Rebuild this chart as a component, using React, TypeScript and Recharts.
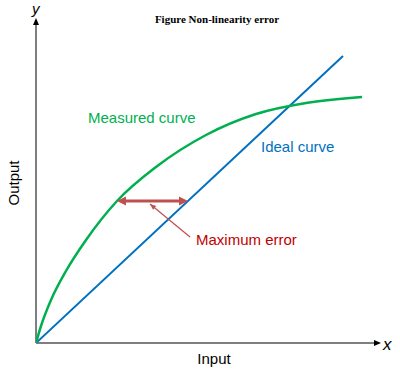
import React from 'react';
import { LineChart, Line, XAxis, YAxis, ReferenceLine, Customized } from 'recharts';

// data units: x input, y output (origin at the axes corner)
const idealCurve = [
  { x: 0, y: 0 },
  { x: 307, y: 287 },
];

const measuredCurve = [
  { x: 0, y: 0 },
  { x: 5, y: 17 },
  { x: 15, y: 43 },
  { x: 30, y: 72 },
  { x: 50, y: 103 },
  { x: 81, y: 142 },
  { x: 120, y: 176 },
  { x: 170, y: 208 },
  { x: 220, y: 229 },
  { x: 270, y: 240 },
  { x: 326, y: 246 },
];

const maxError = { y: 142, from: 81, to: 152 };
const pointer = { from: { x: 114, y: 139 }, to: { x: 154, y: 106 } };
const xDomain = [0, 345];
const yDomain = [0, 325];

const labels = {
  title: 'Figure Non-linearity error',
  measured: 'Measured curve',
  ideal: 'Ideal curve',
  error: 'Maximum error',
  xName: 'Input',
  yName: 'Output',
};

const GREEN = '#00b050';
const BLUE = '#0070c0';
const RED = '#c0504d';
const RED_TEXT = '#c00000';
const AXIS = '#7f7f7f';

function head(x: number, y: number, dx: number, dy: number, len: number, w: number) {
  const l = Math.hypot(dx, dy);
  const ux = dx / l;
  const uy = dy / l;
  const bx = x - ux * len;
  const by = y - uy * len;
  const px = -uy * w;
  const py = ux * w;
  return `${x},${y} ${bx + px},${by + py} ${bx - px},${by - py}`;
}

const AxisArrow = (props: any) => {
  const { x1, y1, x2, y2 } = props;
  const dx = x2 - x1;
  const dy = y2 - y1;
  const l = Math.hypot(dx, dy);
  const ex = x2 - (dx / l) * 6;
  const ey = y2 - (dy / l) * 6;
  return (
    <g>
      <line x1={x1} y1={y1} x2={ex} y2={ey} stroke={AXIS} strokeWidth={2} />
      <polygon points={head(x2, y2, dx, dy, 7, 3)} fill="#000" />
    </g>
  );
};

const DoubleArrow = (props: any) => {
  const { x1, y1, x2, y2 } = props;
  const dx = x2 - x1;
  const dy = y2 - y1;
  const l = Math.hypot(dx, dy);
  const ux = dx / l;
  const uy = dy / l;
  return (
    <g>
      <line x1={x1 + ux * 6} y1={y1 + uy * 6} x2={x2 - ux * 6} y2={y2 - uy * 6} stroke={RED} strokeWidth={3} />
      <polygon points={head(x2, y2, dx, dy, 9, 4.5)} fill={RED} />
      <polygon points={head(x1, y1, -dx, -dy, 9, 4.5)} fill={RED} />
    </g>
  );
};

const Pointer = (props: any) => {
  const { x1, y1, x2, y2 } = props;
  return (
    <g>
      <line x1={x1} y1={y1} x2={x2} y2={y2} stroke={RED} strokeWidth={1.2} />
      <polygon points={head(x1, y1, x1 - x2, y1 - y2, 6, 2.5)} fill={RED} />
    </g>
  );
};

const Texts = () => (
  <g fontFamily="'Liberation Sans', Arial, sans-serif">
    <text x={217} y={23} textAnchor="middle" fontFamily="'Liberation Serif', 'Times New Roman', serif" fontWeight="bold" fontSize={11} fill="#000">
      {labels.title}
    </text>
    <text x={88} y={123} fontSize={15} fill={GREEN}>{labels.measured}</text>
    <text x={261} y={152} fontSize={15} fill={BLUE}>{labels.ideal}</text>
    <text x={196} y={245} fontSize={15} fill={RED_TEXT}>{labels.error}</text>
    <text x={214} y={364} textAnchor="middle" fontSize={15} fill="#000">{labels.xName}</text>
    <text x={19} y={183} textAnchor="middle" fontSize={15} fill="#000" transform="rotate(-90 19 183)">{labels.yName}</text>
    <text x={383} y={350} fontSize={17} fontStyle="italic" fill="#000">x</text>
    <text x={32} y={14} fontSize={15} fontStyle="italic" fill="#000">y</text>
  </g>
);

export default function App() {
  return (
    <div style={{ position: 'absolute', left: 0, top: 0 }}>
      <LineChart width={400} height={370} margin={{ top: 18, right: 19, bottom: 27, left: 36 }}>
        <XAxis type="number" dataKey="x" domain={xDomain} hide allowDataOverflow />
        <YAxis type="number" dataKey="y" domain={yDomain} hide allowDataOverflow />
        <ReferenceLine segment={[{ x: 0, y: 0 }, { x: xDomain[1], y: 0 }]} shape={AxisArrow} ifOverflow="visible" />
        <ReferenceLine segment={[{ x: 0, y: 0 }, { x: 0, y: yDomain[1] }]} shape={AxisArrow} ifOverflow="visible" />
        <Line data={idealCurve} dataKey="y" type="linear" stroke={BLUE} strokeWidth={2} dot={false} isAnimationActive={false} />
        <Line data={measuredCurve} dataKey="y" type="monotone" stroke={GREEN} strokeWidth={2.5} dot={false} isAnimationActive={false} />
        <ReferenceLine segment={[{ x: maxError.from, y: maxError.y }, { x: maxError.to, y: maxError.y }]} shape={DoubleArrow} ifOverflow="visible" />
        <ReferenceLine segment={[pointer.from, pointer.to]} shape={Pointer} ifOverflow="visible" />
        <Customized component={Texts} />
      </LineChart>
    </div>
  );
}
